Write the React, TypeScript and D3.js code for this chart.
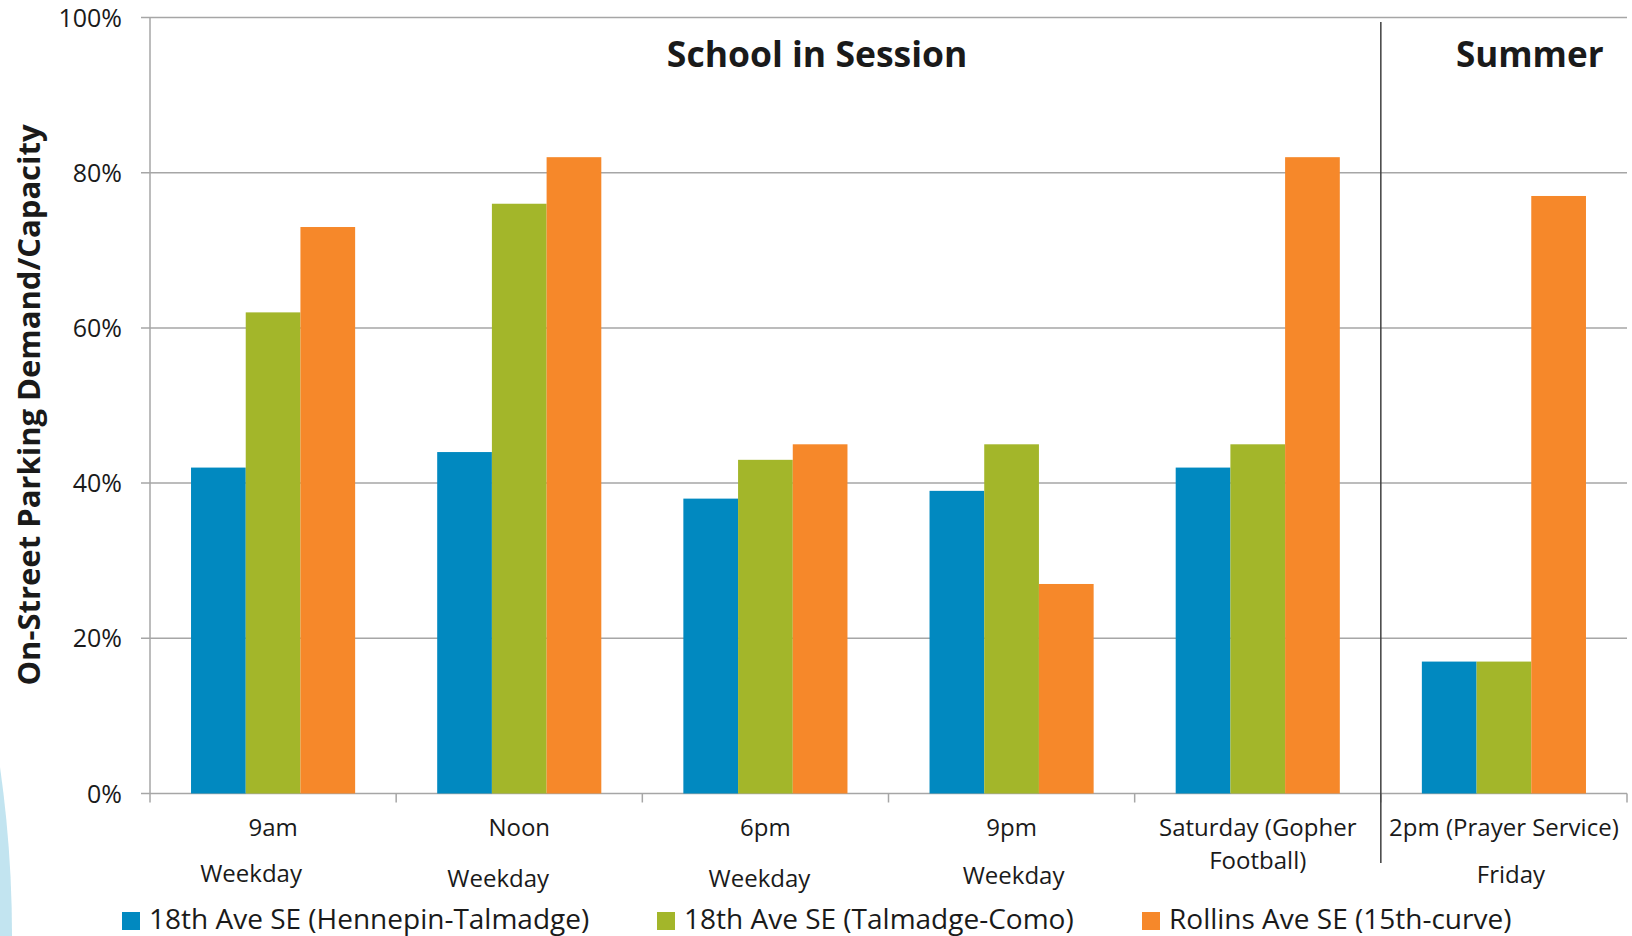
import React from 'react'
import * as d3 from 'd3'

const categories = ['9am', 'Noon', '6pm', '9pm', 'Saturday', '2pm']
const labelTop = ['9am', 'Noon', '6pm', '9pm', 'Saturday (Gopher', '2pm (Prayer Service)']
const labelBottom = ['Weekday', 'Weekday', 'Weekday', 'Weekday', 'Football)', 'Friday']
const seriesNames = [
    '18th Ave SE (Hennepin-Talmadge)',
    '18th Ave SE (Talmadge-Como)',
    'Rollins Ave SE (15th-curve)',
]
const hennepin = [42, 44, 38, 39, 42, 17]
const talmadge = [62, 76, 43, 45, 45, 17]
const rollins = [73, 82, 45, 27, 82, 77]
const yTicks = [0, 20, 40, 60, 80, 100]
const periods = ['School in Session', 'Summer']

const colors = ['#0189C0', '#A3B62A', '#F6882A']
const font = "'Open Sans', sans-serif"

export default function App() {
    const width = 1632
    const height = 936
    const [top, right, bottom, left] = [17.5, 5, 142.5, 150]

    const series = [hennepin, talmadge, rollins]

    const x0 = d3
        .scaleBand<string>()
        .domain(categories)
        .range([left, width - right])
        .padding(0)
    const bw = x0.bandwidth()
    const x1 = d3
        .scaleBand<number>()
        .domain([0, 1, 2])
        .range([bw / 6, (bw * 5) / 6])
        .padding(0)
    const y = d3
        .scaleLinear()
        .domain([0, 100])
        .range([height - bottom, top])

    const sepX = x0(categories[5]) as number
    // small nudges for the second label line, as in the original layout
    const subDx = [-22, -21, -6, 2, 0, 7]
    const subY = [882, 887, 887, 884, 869, 883]

    const legendX = [122, 657, 1142]

    return (
        <svg
            width={width}
            height={height}
            style={{ position: 'absolute', left: 0, top: 0, background: 'white' }}
            fontFamily={font}
        >
            <circle cx={-1184} cy={936} r={1196} fill='#C2E4F0' />

            {/* grid */}
            {yTicks.map(t => (
                <g key={t}>
                    <line
                        x1={left - 9}
                        x2={width - right}
                        y1={y(t)}
                        y2={y(t)}
                        stroke='#A6A6A6'
                        strokeWidth={1.5}
                    />
                    <text
                        x={122}
                        y={y(t)}
                        dy='0.36em'
                        textAnchor='end'
                        fontSize={25}
                        fill='#1a1a1a'
                    >
                        {t}%
                    </text>
                </g>
            ))}
            <line x1={left} x2={left} y1={top} y2={y(0) + 9} stroke='#A6A6A6' strokeWidth={1.5} />
            {categories.map(c => (
                <line
                    key={c}
                    x1={(x0(c) as number) + bw}
                    x2={(x0(c) as number) + bw}
                    y1={y(0)}
                    y2={y(0) + 9}
                    stroke='#A6A6A6'
                    strokeWidth={1.5}
                />
            ))}

            {/* bars */}
            {categories.map((c, i) => (
                <g key={c} transform={`translate(${x0(c)},0)`}>
                    {series.map((s, j) => (
                        <rect
                            key={j}
                            x={x1(j)}
                            y={y(s[i])}
                            width={x1.bandwidth()}
                            height={y(0) - y(s[i])}
                            fill={colors[j]}
                        />
                    ))}
                </g>
            ))}

            {/* period divider */}
            <line x1={sepX} x2={sepX} y1={22} y2={863} stroke='#404040' strokeWidth={1.5} />
            <text
                x={left + bw * 2.71}
                y={67}
                textAnchor='middle'
                fontSize={35.5}
                fontWeight='bold'
                fill='#1a1a1a'
            >
                {periods[0]}
            </text>
            <text
                x={sepX + bw * 0.605}
                y={67}
                textAnchor='middle'
                fontSize={35}
                fontWeight='bold'
                fill='#1a1a1a'
            >
                {periods[1]}
            </text>

            {/* x labels */}
            {categories.map((c, i) => {
                const cx = (x0(c) as number) + bw / 2
                return (
                    <g key={c} fontSize={24} fill='#1a1a1a' textAnchor='middle'>
                        <text x={cx} y={836}>
                            {labelTop[i]}
                        </text>
                        <text x={cx + subDx[i]} y={subY[i]}>
                            {labelBottom[i]}
                        </text>
                    </g>
                )
            })}

            {/* y title */}
            <text
                transform={`translate(40, 405) rotate(-90)`}
                textAnchor='middle'
                fontSize={31}
                fontWeight='bold'
                fill='#1a1a1a'
            >
                On-Street Parking Demand/Capacity
            </text>

            {/* legend */}
            {seriesNames.map((n, j) => (
                <g key={n} transform={`translate(${legendX[j]}, 912)`}>
                    <rect width={18} height={18} fill={colors[j]} />
                    <text x={27} y={17} fontSize={28} fill='#1a1a1a'>
                        {n}
                    </text>
                </g>
            ))}
        </svg>
    )
}
